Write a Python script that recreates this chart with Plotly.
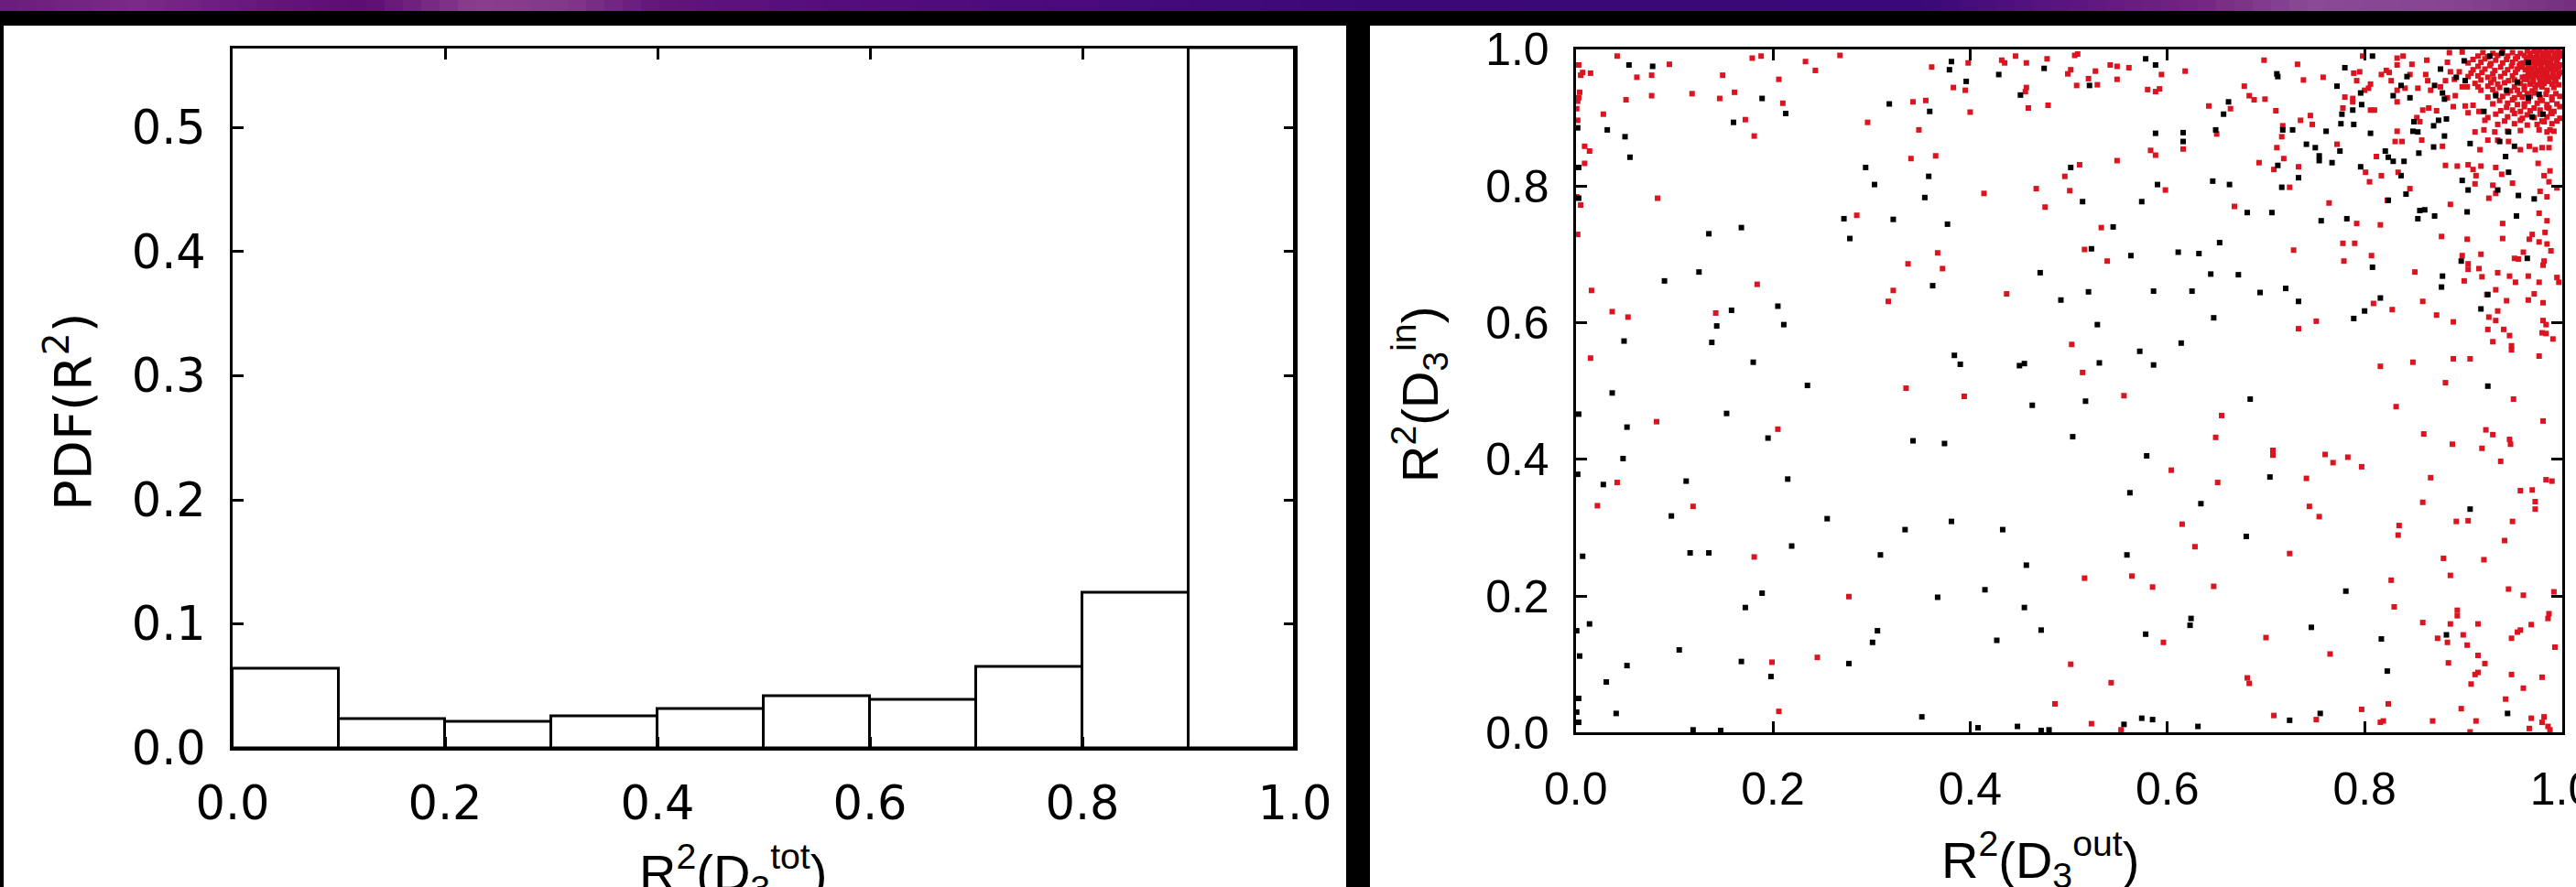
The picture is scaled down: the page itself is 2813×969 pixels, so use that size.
import plotly.graph_objects as go

# ---------------- data ----------------
# histogram of R^2(D3 tot): bin left edges and PDF values
bin_left = [0.0, 0.1, 0.2, 0.3, 0.4, 0.5, 0.6, 0.7, 0.8, 0.9]
bin_width = 0.1
pdf_vals = [0.0638, 0.0236, 0.0214, 0.0258, 0.0317, 0.0415, 0.0390, 0.0650, 0.1250, 0.5642]

hist_xticks = [0.0, 0.2, 0.4, 0.6, 0.8, 1.0]
hist_yticks = [0.0, 0.1, 0.2, 0.3, 0.4, 0.5]
scat_ticks = [0.0, 0.2, 0.4, 0.6, 0.8, 1.0]

# scatter R^2(D3 out) vs R^2(D3 in), red population
red_pts = [
    (0.003, 0.977), (0.042, 0.990), (0.007, 0.966), (0.005, 0.962), (0.015, 0.965), (0.095, 0.978),
    (0.062, 0.959), (0.077, 0.962), (0.179, 0.987), (0.188, 0.990), (0.149, 0.962), (0.233, 0.982),
    (0.243, 0.969), (0.268, 0.991), (0.206, 0.956), (0.004, 0.937), (0.003, 0.929), (0.002, 0.924),
    (0.051, 0.926), (0.077, 0.932), (0.118, 0.935), (0.146, 0.928), (0.161, 0.937), (0.210, 0.921),
    (0.001, 0.913), (0.028, 0.905), (0.002, 0.896), (0.172, 0.897), (0.296, 0.893), (0.181, 0.873),
    (0.009, 0.858), (0.014, 0.851), (0.009, 0.833), (0.083, 0.782), (0.001, 0.784), (0.005, 0.772),
    (0.285, 0.757), (0.002, 0.729), (0.184, 0.656), (0.016, 0.647), (0.322, 0.647), (0.317, 0.631),
    (0.037, 0.616), (0.053, 0.608), (0.142, 0.614), (0.015, 0.548),
    (0.361, 0.974), (0.398, 0.980), (0.432, 0.984), (0.435, 0.980), (0.446, 0.990), (0.457, 0.980),
    (0.478, 0.986), (0.506, 0.991), (0.509, 0.993), (0.499, 0.964), (0.502, 0.970), (0.527, 0.968),
    (0.542, 0.977), (0.549, 0.975), (0.561, 0.973), (0.594, 0.963), (0.618, 0.968), (0.549, 0.956),
    (0.520, 0.957), (0.508, 0.947), (0.529, 0.948), (0.457, 0.944), (0.456, 0.938), (0.383, 0.944),
    (0.395, 0.940), (0.342, 0.923), (0.355, 0.925), (0.400, 0.908), (0.459, 0.914), (0.479, 0.918),
    (0.580, 0.941), (0.588, 0.938), (0.592, 0.942), (0.642, 0.917), (0.650, 0.876), (0.348, 0.882),
    (0.340, 0.840), (0.365, 0.844), (0.583, 0.852), (0.588, 0.845), (0.616, 0.854), (0.511, 0.831),
    (0.549, 0.837), (0.496, 0.814), (0.501, 0.793), (0.467, 0.796), (0.414, 0.789), (0.476, 0.769),
    (0.598, 0.794), (0.533, 0.739), (0.367, 0.702), (0.337, 0.686), (0.372, 0.679), (0.516, 0.707),
    (0.539, 0.690), (0.437, 0.642), (0.503, 0.568), (0.514, 0.527),
    (0.698, 0.984), (0.732, 0.978), (0.738, 0.955), (0.758, 0.959), (0.678, 0.946), (0.683, 0.932),
    (0.688, 0.926), (0.699, 0.927), (0.664, 0.913), (0.710, 0.910), (0.717, 0.888), (0.716, 0.872),
    (0.735, 0.896), (0.745, 0.903), (0.747, 0.890), (0.711, 0.856), (0.718, 0.840), (0.693, 0.834),
    (0.708, 0.824), (0.733, 0.828), (0.724, 0.798), (0.668, 0.770), (0.764, 0.775), (0.772, 0.861),
    (0.780, 0.930), (0.788, 0.928), (0.788, 0.923), (0.778, 0.914), (0.806, 0.911), (0.810, 0.911),
    (0.789, 0.965), (0.795, 0.967), (0.792, 0.954), (0.798, 0.990), (0.804, 0.943), (0.806, 0.949),
    (0.800, 0.940), (0.817, 0.963), (0.822, 0.969), (0.825, 0.966), (0.827, 0.954), (0.833, 0.987),
    (0.839, 0.990), (0.833, 0.977), (0.848, 0.978), (0.846, 0.963), (0.863, 0.984), (0.862, 0.963),
    (0.864, 0.954), (0.854, 0.943), (0.833, 0.940), (0.841, 0.943), (0.833, 0.923), (0.833, 0.880),
    (0.831, 0.865), (0.838, 0.865), (0.858, 0.867), (0.853, 0.900), (0.856, 0.894), (0.859, 0.911),
    (0.865, 0.914), (0.873, 0.910), (0.879, 0.858), (0.867, 0.940), (0.877, 0.945), (0.882, 0.954),
    (0.887, 0.967), (0.896, 0.967), (0.891, 0.956), (0.884, 0.981), (0.886, 0.995), (0.899, 0.996),
    (0.812, 0.843), (0.817, 0.815), (0.805, 0.806), (0.801, 0.820), (0.834, 0.820), (0.846, 0.796),
    (0.823, 0.779), (0.887, 0.773), (0.882, 0.830), (0.894, 0.829), (0.905, 0.831), (0.910, 0.824),
    (0.918, 0.829), (0.913, 0.815), (0.912, 0.803), (0.933, 0.827), (0.939, 0.817), (0.950, 0.804),
    (0.933, 0.789), (0.926, 0.782), (0.930, 0.801), (0.890, 0.916), (0.884, 0.929), (0.892, 0.932),
    (0.899, 0.945), (0.904, 0.945), (0.902, 0.917), (0.910, 0.918), (0.905, 0.907), (0.916, 0.909),
    (0.922, 0.896), (0.912, 0.879), (0.921, 0.882), (0.932, 0.879), (0.925, 0.867), (0.917, 0.853),
    (0.935, 0.867), (0.946, 0.865), (0.958, 0.853), (0.967, 0.858), (0.973, 0.853), (0.980, 0.856),
    (0.987, 0.856), (0.988, 0.869), (0.976, 0.833), (0.982, 0.815), (0.988, 0.822), (0.987, 0.806),
    (0.985, 0.784), (0.978, 0.792), (0.995, 0.797), (0.992, 0.880), (0.988, 0.882), (0.977, 0.882),
    (0.980, 0.895), (0.989, 0.908), (0.987, 0.914), (0.792, 0.745), (0.816, 0.743), (0.778, 0.716),
    (0.790, 0.716), (0.779, 0.690), (0.728, 0.706), (0.807, 0.698), (0.878, 0.726), (0.904, 0.722),
    (0.918, 0.700), (0.940, 0.745), (0.940, 0.723), (0.977, 0.760), (0.985, 0.749), (0.983, 0.732),
    (0.970, 0.729), (0.967, 0.722), (0.977, 0.718), (0.985, 0.715), (0.989, 0.705), (0.961, 0.703),
    (0.952, 0.694), (0.956, 0.693), (0.982, 0.690), (0.981, 0.684), (0.899, 0.698), (0.905, 0.686),
    (0.905, 0.678), (0.916, 0.679), (0.901, 0.661), (0.919, 0.667), (0.935, 0.673), (0.947, 0.668),
    (0.953, 0.659), (0.966, 0.668), (0.977, 0.659), (0.995, 0.666), (0.997, 0.659), (0.851, 0.674),
    (0.859, 0.631), (0.809, 0.628), (0.828, 0.619), (0.873, 0.611), (0.890, 0.601), (0.933, 0.648),
    (0.924, 0.641), (0.944, 0.632), (0.966, 0.633), (0.972, 0.642), (0.981, 0.629), (0.935, 0.617),
    (0.926, 0.608), (0.933, 0.603), (0.925, 0.590), (0.941, 0.590), (0.947, 0.581), (0.981, 0.603),
    (0.984, 0.597), (0.980, 0.585), (0.984, 0.584), (0.991, 0.576), (0.949, 0.566), (0.949, 0.560),
    (0.930, 0.572), (0.977, 0.551), (0.751, 0.602), (0.733, 0.591), (0.816, 0.536), (0.849, 0.542),
    (0.890, 0.547), (0.907, 0.547), (0.882, 0.512),
    (0.082, 0.455), (0.205, 0.444), (0.042, 0.366), (0.022, 0.332), (0.119, 0.331), (0.181, 0.257),
    (0.277, 0.199), (0.245, 0.110), (0.199, 0.103), (0.206, 0.031),
    (0.335, 0.504), (0.394, 0.492), (0.556, 0.493), (0.655, 0.464), (0.649, 0.432), (0.604, 0.384),
    (0.651, 0.366), (0.615, 0.305), (0.628, 0.272), (0.516, 0.226), (0.564, 0.229), (0.585, 0.213),
    (0.647, 0.214), (0.596, 0.132), (0.502, 0.100), (0.543, 0.073), (0.486, 0.042), (0.523, 0.013),
    (0.553, 0.004),
    (0.951, 0.488), (0.832, 0.477), (0.981, 0.456), (0.860, 0.437), (0.923, 0.443), (0.930, 0.436),
    (0.947, 0.429), (0.948, 0.422), (0.889, 0.422), (0.919, 0.416), (0.938, 0.397), (0.707, 0.413),
    (0.707, 0.406), (0.760, 0.407), (0.768, 0.395), (0.783, 0.403), (0.797, 0.389), (0.741, 0.372),
    (0.867, 0.373), (0.984, 0.370), (0.990, 0.368), (0.958, 0.354), (0.970, 0.355), (0.973, 0.338),
    (0.973, 0.327), (0.744, 0.331), (0.754, 0.316), (0.859, 0.337), (0.893, 0.309), (0.905, 0.310),
    (0.950, 0.309), (0.835, 0.303), (0.834, 0.289), (0.942, 0.281), (0.724, 0.262), (0.880, 0.255),
    (0.921, 0.253), (0.887, 0.230), (0.827, 0.223), (0.946, 0.210), (0.961, 0.201), (0.992, 0.206),
    (0.830, 0.184), (0.894, 0.179), (0.894, 0.171), (0.987, 0.174), (0.986, 0.167), (0.859, 0.161),
    (0.887, 0.159), (0.915, 0.159), (0.969, 0.158), (0.958, 0.150), (0.955, 0.147), (0.949, 0.138),
    (0.874, 0.138), (0.884, 0.132), (0.900, 0.143), (0.904, 0.128), (0.993, 0.125), (0.700, 0.139),
    (0.765, 0.115), (0.915, 0.113), (0.922, 0.101), (0.885, 0.102), (0.915, 0.088), (0.912, 0.085),
    (0.908, 0.071), (0.949, 0.085), (0.980, 0.081), (0.961, 0.065), (0.943, 0.049), (0.681, 0.080),
    (0.683, 0.072), (0.708, 0.025), (0.751, 0.019), (0.797, 0.034), (0.824, 0.042), (0.819, 0.017),
    (0.816, 0.015), (0.869, 0.017), (0.898, 0.035), (0.913, 0.017), (0.969, 0.021), (0.982, 0.023),
    (0.980, 0.015), (0.967, 0.006), (0.986, 0.009), (0.988, 0.004), (0.907, 0.001),
]

# crowded corner near (1, 1)
red_corner = [
    (0.965, 0.998), (0.972, 0.997), (0.978, 0.998), (0.984, 0.996), (0.990, 0.998), (0.996, 0.997),
    (0.962, 0.991), (0.968, 0.990), (0.975, 0.992), (0.981, 0.991), (0.987, 0.990), (0.993, 0.991), (0.998, 0.990),
    (0.964, 0.984), (0.971, 0.983), (0.977, 0.985), (0.983, 0.984), (0.989, 0.983), (0.995, 0.984),
    (0.966, 0.977), (0.973, 0.976), (0.979, 0.978), (0.986, 0.977), (0.992, 0.976), (0.998, 0.977),
    (0.963, 0.970), (0.969, 0.971), (0.976, 0.969), (0.982, 0.970), (0.988, 0.971), (0.994, 0.970),
    (0.967, 0.963), (0.974, 0.962), (0.980, 0.964), (0.985, 0.963), (0.991, 0.962), (0.997, 0.964),
    (0.965, 0.956), (0.971, 0.957), (0.978, 0.955), (0.984, 0.956), (0.993, 0.957),
    (0.968, 0.949), (0.975, 0.948), (0.982, 0.950), (0.990, 0.949), (0.997, 0.948),
    (0.968, 0.994), (0.975, 0.995), (0.981, 0.994), (0.987, 0.995), (0.993, 0.994), (0.999, 0.995),
    (0.965, 0.987), (0.972, 0.988), (0.978, 0.987), (0.984, 0.988), (0.990, 0.987), (0.996, 0.988),
    (0.961, 0.980), (0.969, 0.981), (0.975, 0.980), (0.981, 0.981), (0.988, 0.980), (0.995, 0.981),
    (0.960, 0.974), (0.967, 0.973), (0.973, 0.974), (0.979, 0.973), (0.985, 0.974), (0.991, 0.973), (0.997, 0.974),
    (0.966, 0.967), (0.972, 0.966), (0.979, 0.967), (0.985, 0.966), (0.991, 0.967), (0.998, 0.966),
    (0.963, 0.960), (0.970, 0.960), (0.977, 0.959), (0.982, 0.960), (0.988, 0.959), (0.996, 0.960),
    (0.971, 0.952), (0.979, 0.952), (0.987, 0.953), (0.994, 0.952),
    (0.915, 0.990), (0.925, 0.989), (0.935, 0.991), (0.945, 0.990), (0.955, 0.989),
    (0.905, 0.980), (0.918, 0.981), (0.928, 0.979), (0.940, 0.980), (0.950, 0.981), (0.958, 0.979),
    (0.910, 0.970), (0.922, 0.971), (0.932, 0.969), (0.945, 0.970), (0.955, 0.971),
    (0.905, 0.960), (0.915, 0.961), (0.925, 0.959), (0.938, 0.960), (0.950, 0.961), (0.960, 0.959),
    (0.912, 0.950), (0.928, 0.951), (0.935, 0.949), (0.942, 0.951), (0.958, 0.950),
    (0.918, 0.940), (0.930, 0.941), (0.948, 0.939), (0.955, 0.940), (0.962, 0.941), (0.970, 0.939), (0.985, 0.940),
    (0.925, 0.930), (0.940, 0.931), (0.952, 0.929), (0.960, 0.930), (0.968, 0.931), (0.978, 0.929), (0.990, 0.930), (0.998, 0.931),
    (0.930, 0.920), (0.945, 0.921), (0.955, 0.919), (0.962, 0.920), (0.975, 0.921), (0.985, 0.919), (0.995, 0.920),
    (0.938, 0.910), (0.950, 0.911), (0.958, 0.909), (0.968, 0.910), (0.978, 0.911), (0.992, 0.909),
    (0.925, 0.900), (0.945, 0.901), (0.960, 0.899), (0.972, 0.900), (0.985, 0.901), (0.998, 0.899),
    (0.935, 0.890), (0.952, 0.891), (0.965, 0.889), (0.975, 0.890), (0.990, 0.891),
    (0.945, 0.880), (0.958, 0.881), (0.985, 0.879),
    (0.920, 0.995), (0.930, 0.994), (0.940, 0.996), (0.950, 0.995), (0.958, 0.994),
    (0.910, 0.985), (0.922, 0.986), (0.933, 0.984), (0.944, 0.985), (0.953, 0.986),
    (0.915, 0.975), (0.927, 0.976), (0.938, 0.974), (0.949, 0.975), (0.957, 0.976),
    (0.908, 0.965), (0.919, 0.966), (0.930, 0.964), (0.942, 0.965), (0.953, 0.966),
    (0.918, 0.955), (0.931, 0.956), (0.946, 0.954), (0.952, 0.955), (0.962, 0.956),
    (0.915, 0.945), (0.925, 0.946), (0.937, 0.944), (0.952, 0.945), (0.962, 0.946), (0.973, 0.944), (0.980, 0.945), (0.992, 0.944),
    (0.933, 0.935), (0.945, 0.936), (0.957, 0.934), (0.965, 0.935), (0.973, 0.936), (0.984, 0.934), (0.994, 0.935),
    (0.937, 0.925), (0.950, 0.926), (0.966, 0.924), (0.980, 0.925), (0.990, 0.926),
    (0.944, 0.915), (0.962, 0.916), (0.972, 0.914), (0.985, 0.915), (0.998, 0.916),
    (0.933, 0.905), (0.952, 0.906), (0.965, 0.904), (0.978, 0.905), (0.990, 0.906),
    (0.942, 0.895), (0.958, 0.896), (0.982, 0.894), (0.995, 0.895),
]

# black population
black_pts = [
    (0.054, 0.977), (0.078, 0.975), (0.189, 0.928), (0.213, 0.906), (0.318, 0.920), (0.160, 0.893),
    (0.032, 0.882), (0.050, 0.872), (0.002, 0.885), (0.055, 0.842), (0.003, 0.827), (0.294, 0.827),
    (0.303, 0.802), (0.003, 0.782), (0.272, 0.752), (0.322, 0.751), (0.278, 0.723), (0.135, 0.730),
    (0.168, 0.739), (0.125, 0.674), (0.090, 0.661), (0.205, 0.624), (0.158, 0.618), (0.143, 0.595),
    (0.211, 0.597), (0.049, 0.573), (0.138, 0.571), (0.180, 0.542),
    (0.381, 0.982), (0.379, 0.970), (0.475, 0.972), (0.429, 0.963), (0.578, 0.986), (0.588, 0.977),
    (0.396, 0.953), (0.451, 0.933), (0.521, 0.947), (0.359, 0.909), (0.588, 0.877), (0.616, 0.878),
    (0.616, 0.865), (0.649, 0.882), (0.657, 0.905), (0.502, 0.827), (0.358, 0.814), (0.354, 0.783),
    (0.514, 0.777), (0.574, 0.777), (0.590, 0.802), (0.646, 0.807), (0.377, 0.744), (0.545, 0.740),
    (0.523, 0.708), (0.563, 0.698), (0.611, 0.703), (0.632, 0.701), (0.653, 0.717), (0.644, 0.671),
    (0.471, 0.673), (0.362, 0.654), (0.492, 0.633), (0.520, 0.645), (0.586, 0.646), (0.625, 0.646),
    (0.647, 0.607), (0.529, 0.597), (0.614, 0.570), (0.572, 0.558), (0.384, 0.552), (0.390, 0.539),
    (0.450, 0.537), (0.455, 0.540), (0.531, 0.541), (0.586, 0.538),
    (0.662, 0.923), (0.663, 0.802), (0.711, 0.964), (0.712, 0.960), (0.780, 0.973), (0.772, 0.946),
    (0.796, 0.936), (0.797, 0.919), (0.788, 0.911), (0.777, 0.905), (0.776, 0.891), (0.789, 0.890),
    (0.727, 0.882), (0.717, 0.882), (0.761, 0.880), (0.750, 0.856), (0.741, 0.861), (0.775, 0.851),
    (0.754, 0.844), (0.754, 0.837), (0.767, 0.834), (0.712, 0.830), (0.733, 0.812), (0.716, 0.798),
    (0.681, 0.761), (0.706, 0.761), (0.756, 0.749), (0.782, 0.752), (0.806, 0.877), (0.808, 0.990),
    (0.837, 0.947), (0.843, 0.960), (0.829, 0.932), (0.846, 0.929), (0.850, 0.894), (0.849, 0.880),
    (0.854, 0.879), (0.870, 0.888), (0.875, 0.896), (0.883, 0.898), (0.881, 0.873), (0.870, 0.857),
    (0.855, 0.848), (0.821, 0.851), (0.824, 0.842), (0.829, 0.836), (0.840, 0.836), (0.796, 0.828),
    (0.837, 0.815), (0.842, 0.788), (0.824, 0.779), (0.854, 0.752), (0.856, 0.764), (0.861, 0.765),
    (0.871, 0.756), (0.904, 0.762), (0.899, 0.808), (0.905, 0.794), (0.907, 0.862), (0.935, 0.794),
    (0.946, 0.820), (0.956, 0.786), (0.972, 0.781), (0.954, 0.756), (0.943, 0.843), (0.952, 0.858),
    (0.946, 0.879), (0.937, 0.865), (0.877, 0.971), (0.893, 0.959), (0.901, 0.983), (0.871, 0.947),
    (0.879, 0.936), (0.881, 0.927), (0.902, 0.954), (0.927, 0.990), (0.939, 0.994), (0.944, 0.940),
    (0.933, 0.932), (0.921, 0.909), (0.966, 0.929), (0.977, 0.934), (0.981, 0.905), (0.970, 0.901),
    (0.955, 0.952), (0.966, 0.981), (0.808, 0.681), (0.816, 0.636), (0.800, 0.617), (0.789, 0.606),
    (0.879, 0.668), (0.878, 0.652), (0.898, 0.690), (0.965, 0.694), (0.925, 0.641), (0.918, 0.620),
    (0.672, 0.670), (0.694, 0.644), (0.720, 0.650), (0.733, 0.631),
    (0.037, 0.497), (0.235, 0.508), (0.003, 0.466), (0.153, 0.467), (0.052, 0.447), (0.195, 0.431),
    (0.048, 0.401), (0.002, 0.378), (0.028, 0.363), (0.112, 0.368), (0.215, 0.371), (0.097, 0.317),
    (0.255, 0.313), (0.007, 0.258), (0.116, 0.263), (0.135, 0.263), (0.219, 0.273), (0.309, 0.260),
    (0.189, 0.204), (0.172, 0.183), (0.014, 0.159), (0.001, 0.149), (0.306, 0.149), (0.301, 0.132),
    (0.105, 0.121), (0.004, 0.112), (0.052, 0.098), (0.168, 0.104), (0.277, 0.101), (0.198, 0.082),
    (0.031, 0.074), (0.003, 0.050), (0.041, 0.028), (0.001, 0.030), (0.003, 0.015), (0.119, 0.004),
    (0.147, 0.003),
    (0.463, 0.479), (0.517, 0.485), (0.504, 0.433), (0.579, 0.405), (0.562, 0.351), (0.634, 0.335),
    (0.342, 0.427), (0.374, 0.423), (0.381, 0.309), (0.334, 0.297), (0.433, 0.297), (0.559, 0.260),
    (0.457, 0.245), (0.415, 0.209), (0.367, 0.198), (0.455, 0.183), (0.472, 0.150), (0.427, 0.135),
    (0.578, 0.144), (0.624, 0.167), (0.623, 0.157), (0.351, 0.023), (0.408, 0.007), (0.448, 0.009),
    (0.472, 0.003), (0.480, 0.004), (0.556, 0.012), (0.574, 0.021), (0.585, 0.019), (0.631, 0.009),
    (0.925, 0.507), (0.684, 0.488), (0.704, 0.374), (0.680, 0.287), (0.907, 0.327), (0.781, 0.207),
    (0.746, 0.154), (0.883, 0.143), (0.817, 0.137), (0.823, 0.090), (0.755, 0.028), (0.724, 0.018),
    (0.945, 0.028),
]

# ---------------- page geometry (pixels) ----------------
W, H = 2813, 969
RED = "#dc1420"


def px_x(p):
    return p / W


def px_y(p):
    return 1 - p / H


fig = go.Figure()

# histogram as outlined bars
fig.add_trace(go.Bar(
    x=[b + bin_width / 2 for b in bin_left], y=pdf_vals, width=bin_width,
    marker=dict(color="white", line=dict(color="black", width=3)),
    xaxis="x", yaxis="y", showlegend=False, hoverinfo="skip",
))

red_all = red_pts + red_corner
fig.add_trace(go.Scatter(
    x=[p[0] for p in red_all], y=[p[1] for p in red_all], mode="markers",
    marker=dict(symbol="square", size=6, color=RED, line=dict(width=0)),
    xaxis="x2", yaxis="y2", showlegend=False, cliponaxis=False,
))
fig.add_trace(go.Scatter(
    x=[p[0] for p in black_pts], y=[p[1] for p in black_pts], mode="markers",
    marker=dict(symbol="square", size=6, color="black", line=dict(width=0)),
    xaxis="x2", yaxis="y2", showlegend=False, cliponaxis=False,
))

# ---------------- backdrop: gradient strip, black frame, white panels ----------------
shapes = []
stops = [
    (0, (106, 28, 124)), (150, (123, 42, 136)), (300, (101, 21, 122)), (400, (92, 12, 114)),
    (520, (138, 63, 142)), (620, (130, 56, 136)), (720, (98, 20, 122)), (900, (86, 13, 124)),
    (1200, (71, 10, 124)), (1500, (60, 8, 120)), (2100, (58, 8, 120)), (2250, (90, 20, 128)),
    (2400, (116, 36, 127)), (2520, (138, 74, 149)), (2680, (134, 68, 146)), (2813, (116, 48, 127)),
]


def grad_color(xp):
    for (x0, c0), (x1, c1) in zip(stops[:-1], stops[1:]):
        if x0 <= xp <= x1:
            t = (xp - x0) / (x1 - x0)
            return "rgb(%d,%d,%d)" % tuple(round(a + (b - a) * t) for a, b in zip(c0, c1))
    return "rgb(%d,%d,%d)" % stops[-1][1]


step = 20
for xs in range(0, W, step):
    shapes.append(dict(type="rect", xref="paper", yref="paper", layer="below",
                       x0=px_x(xs), x1=px_x(min(xs + step + 1, W)), y0=px_y(12), y1=1,
                       fillcolor=grad_color(xs + step / 2), line=dict(width=0)))

for x0, x1 in [(4, 1470), (1496, W)]:
    shapes.append(dict(type="rect", xref="paper", yref="paper", layer="below",
                       x0=px_x(x0), x1=px_x(x1), y0=0, y1=px_y(28),
                       fillcolor="white", line=dict(width=0)))

# ---------------- axes ----------------
left_font = dict(family="DejaVu Sans", size=51, color="black")
right_font = dict(family="Liberation Sans", size=50, color="black")

common = dict(showgrid=False, zeroline=False, showline=True, linecolor="black", linewidth=3,
              mirror="allticks", ticks="inside", ticklen=12, tickwidth=2.5, tickcolor="black",
              automargin=False, ticklabeloverflow="allow")

fig.update_layout(
    width=W, height=H,
    margin=dict(l=0, r=0, t=0, b=0, pad=0, autoexpand=False),
    paper_bgcolor="black", plot_bgcolor="white",
    bargap=0, showlegend=False,
    shapes=shapes,
    xaxis=dict(domain=[px_x(254), px_x(1414)], range=[0, 1], tickvals=hist_xticks,
               ticktext=["%.1f" % v for v in hist_xticks], tickfont=left_font,
               ticklabelstandoff=14, anchor="y", **common),
    yaxis=dict(domain=[px_y(817), px_y(52.5)], range=[0, max(pdf_vals)], tickvals=hist_yticks,
               ticktext=["%.1f" % v for v in hist_yticks], tickfont=left_font,
               ticklabelstandoff=16, anchor="x", **common),
    xaxis2=dict(domain=[px_x(1720.7), px_x(2797.5)], range=[0, 1], tickvals=scat_ticks,
                ticktext=["%.1f" % v for v in scat_ticks], tickfont=right_font,
                ticklabelstandoff=16, anchor="y2", **common),
    yaxis2=dict(domain=[px_y(800.3), px_y(53.8)], range=[0, 1], tickvals=scat_ticks,
                ticktext=["%.1f" % v for v in scat_ticks], tickfont=right_font,
                ticklabelstandoff=16, anchor="x2", **common),
)

title_left = dict(family="DejaVu Sans", size=56, color="black")
title_right = dict(family="Liberation Sans", size=56, color="black")

fig.add_annotation(text="R<sup>2</sup>(D<sub>3</sub><sup>tot</sup>)", xref="paper", yref="paper",
                   x=px_x(800), y=px_y(912), xanchor="center", yanchor="top",
                   showarrow=False, font=title_right)
fig.add_annotation(text="PDF(R<sup>2</sup>)", xref="paper", yref="paper",
                   x=px_x(75), y=px_y(450), xanchor="center", yanchor="middle",
                   textangle=-90, showarrow=False, font=title_left)
fig.add_annotation(text="R<sup>2</sup>(D<sub>3</sub><sup>out</sup>)", xref="paper", yref="paper",
                   x=px_x(2228), y=px_y(898), xanchor="center", yanchor="top",
                   showarrow=False, font=title_right)
fig.add_annotation(text="R<sup>2</sup>(D<sub>3</sub><sup>in</sup>)", xref="paper", yref="paper",
                   x=px_x(1550), y=px_y(431), xanchor="center", yanchor="middle",
                   textangle=-90, showarrow=False, font=title_right)

fig.write_html("out.html")
